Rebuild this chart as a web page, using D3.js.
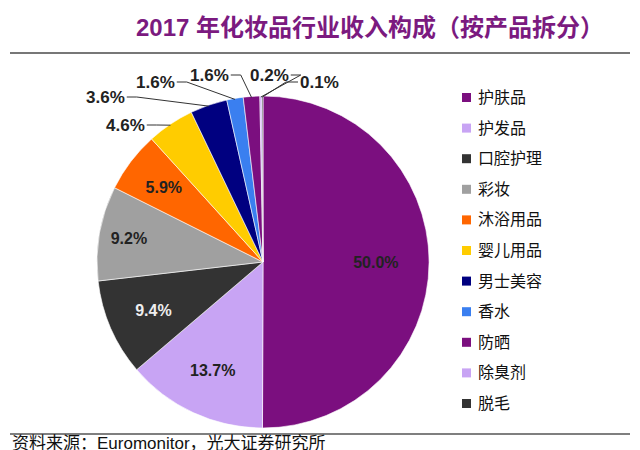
<!DOCTYPE html>
<html><head><meta charset="utf-8">
<script src="https://cdn.jsdelivr.net/npm/d3@7"></script>
<style>body{margin:0;background:#fff}text{font-family:"Liberation Sans","Noto Sans CJK SC",sans-serif}</style>
</head><body><svg id="c" width="640" height="450"></svg>
<script>
var categories = ['护肤品','护发品','口腔护理','彩妆','沐浴用品','婴儿用品','男士美容','香水','防晒','除臭剂','脱毛'];
var values = [50.0, 13.7, 9.4, 9.2, 5.9, 4.6, 3.6, 1.6, 1.6, 0.2, 0.1];
var colors = ['#7b0f7f','#c8a4f4','#333333','#a0a0a0','#ff6600','#ffcc00','#000080','#3a7ff0','#7b0f7f','#c8a4f4','#333333'];
// outside labels: text start x, baseline y
var outsideLabels = {5:[106,131],6:[86,103],7:[136,88],8:[190,81],9:[250,81],10:[300,88]};
var insideFactor = [0.68,0.72,0.72,0.82,0.75];
var insideText = ['#222','#222','#eee','#222','#222'];

var svg = d3.select('#c');
svg.append('text').attr('x',370).attr('y',36).attr('text-anchor','middle')
  .attr('fill','#7b1a7f').attr('font-size',24).attr('font-weight','bold')
  .text('2017 年化妆品行业收入构成（按产品拆分）');
svg.append('line').attr('x1',10).attr('x2',630).attr('y1',53).attr('y2',53).attr('stroke','#777').attr('stroke-width',2);
svg.append('line').attr('x1',10).attr('x2',630).attr('y1',434).attr('y2',434).attr('stroke','#555').attr('stroke-width',1.5);
svg.append('text').attr('x',12).attr('y',449).attr('font-size',17).attr('fill','#111')
  .text('资料来源：Euromonitor，光大证券研究所');

var cx = 263, cy = 262, r = 166;
var pie = d3.pie().sort(null).value(function(d){return d;});
var arcs = pie(values);
var arc = d3.arc().innerRadius(0).outerRadius(r);
var g = svg.append('g').attr('transform','translate('+cx+','+cy+')');
g.selectAll('path').data(arcs).enter().append('path')
  .attr('d',arc).attr('fill',function(d,i){return colors[i];})
  .attr('stroke','#fff').attr('stroke-width',0.6);

arcs.forEach(function(d,i){
  var label = values[i].toFixed(1)+'%';
  var mid = (d.startAngle+d.endAngle)/2;
  if (outsideLabels[i]) {
    var p = outsideLabels[i];
    var lx = p[0]-cx, ly = p[1]-cy;
    var t = g.append('text').attr('x',lx).attr('y',ly)
      .attr('font-size',17).attr('font-weight','bold').attr('fill','#222').text(label);
    var w = t.node().getComputedTextLength();
    var ex = Math.sin(mid)*r, ey = -Math.cos(mid)*r;
    var right = ex < lx;
    var sx = right ? lx-2 : lx+w+2;
    var kx = right ? lx-14 : lx+w+12;
    g.append('polyline')
      .attr('points',[[sx,ly-6],[kx,ly-6],[ex,ey+1]].map(function(q){return q.join(',');}).join(' '))
      .attr('fill','none').attr('stroke','#333').attr('stroke-width',1);
  } else {
    var c = d3.arc().innerRadius(0).outerRadius(r*insideFactor[i]*2).centroid(d);
    g.append('text').attr('x',c[0]).attr('y',c[1]+6).attr('text-anchor','middle')
      .attr('font-size',16).attr('font-weight','bold').attr('fill',insideText[i]).text(label);
  }
});

var leg = svg.append('g').attr('transform','translate(462,98)');
var items = leg.selectAll('g').data(categories).enter().append('g')
  .attr('transform',function(d,i){return 'translate(0,'+(i*30.6)+')';});
items.append('rect').attr('x',0).attr('y',-5).attr('width',9).attr('height',9)
  .attr('fill',function(d,i){return colors[i];});
items.append('text').attr('x',16).attr('y',5).attr('font-size',16).attr('fill','#111').text(function(d){return d;});
</script></body></html>
